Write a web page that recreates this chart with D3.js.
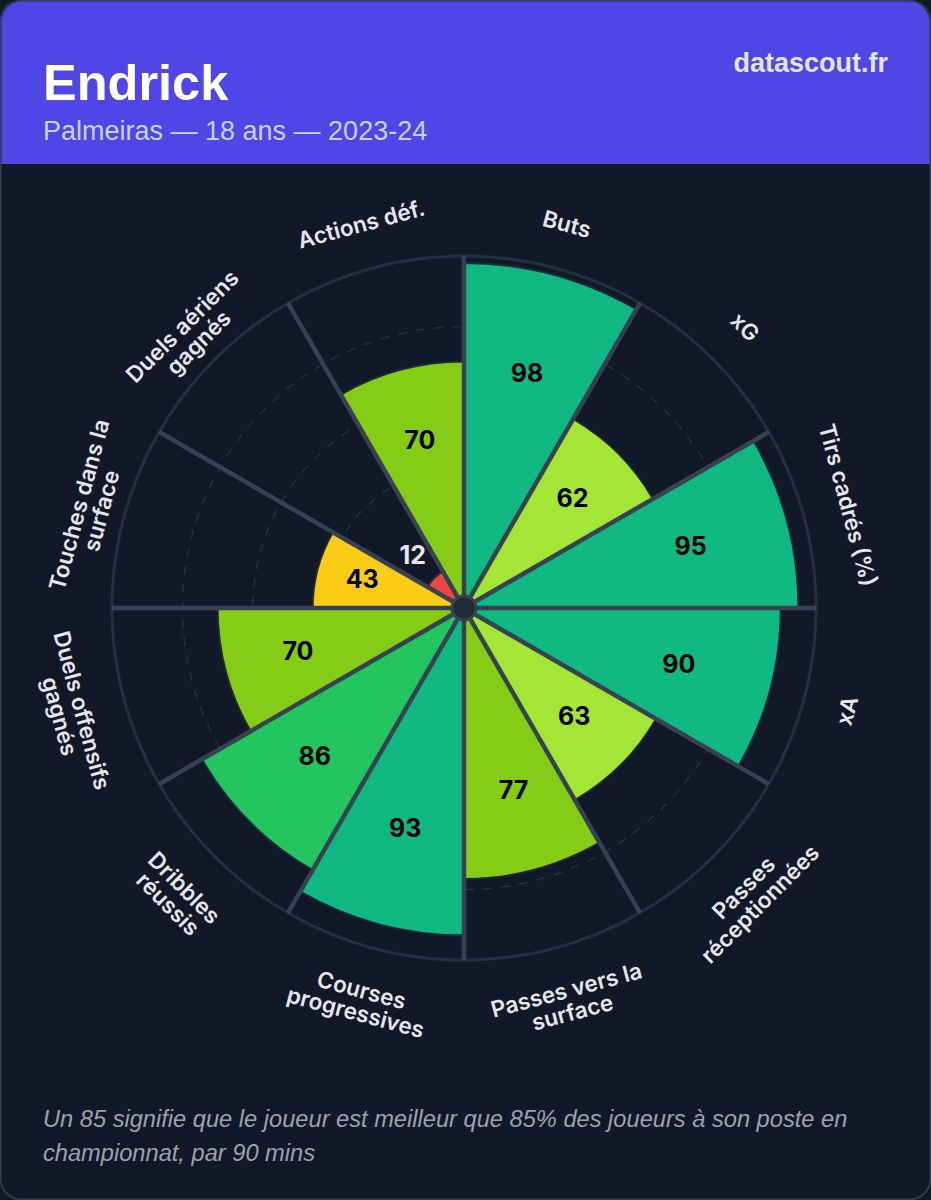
<!DOCTYPE html>
<html>
<head>
<meta charset="utf-8">
<script src="https://cdn.jsdelivr.net/npm/d3@7"></script>
<style>
html, body { margin: 0; padding: 0; background: #111827; }
svg { display: block; }
</style>
</head>
<body>
<svg width="931" height="1200"></svg>
<script>
const categories = ["Buts", "xG", "Tirs cadrés (%)", "xA", "Passes réceptionnées", "Passes vers la surface",
    "Courses progressives", "Dribbles réussis", "Duels offensifs gagnés", "Touches dans la surface",
    "Duels aériens gagnés", "Actions déf."];
const values = [98, 62, 95, 90, 63, 77, 93, 86, 70, 43, 12, 70];
const labelLines = [["Buts"], ["xG"], ["Tirs cadrés (%)"], ["xA"], ["Passes", "réceptionnées"], ["Passes vers la", "surface"],
    ["Courses", "progressives"], ["Dribbles", "réussis"], ["Duels offensifs", "gagnés"], ["Touches dans la", "surface"],
    ["Duels aériens", "gagnés"], ["Actions déf."]];
const gridTicks = [20, 40, 60, 80];
const colorStops = [25, 50, 65, 80, 90];
const colorRange = ["#ef4444", "#facc15", "#a3e635", "#84cc16", "#22c55e", "#10b981"];

const svg = d3.select("svg");
const cx = 464, cy = 608, outer = 352;

const r = d3.scaleLinear().domain([0, 100]).range([0, outer]);
const angle = d3.scaleBand().domain(categories).range([0, 2 * Math.PI]);
const color = d3.scaleThreshold().domain(colorStops).range(colorRange);
const deg = a => a * 180 / Math.PI;

// card
svg.append("rect").attr("x", 0.75).attr("y", 0.75).attr("width", 929.5).attr("height", 1198.5).attr("rx", 20)
    .attr("fill", "#111827").attr("stroke", "#374151").attr("stroke-width", 1.5);

// header
svg.append("path")
    .attr("d", "M1.5,164V21A20,20 0 0 1 21.5,1.5H909.5A20,20 0 0 1 929.5,21V164Z")
    .attr("fill", "#4f46e5");
svg.append("text").attr("x", 43).attr("y", 100).text("Endrick")
    .attr("font-family", "Liberation Sans").attr("font-weight", 700).attr("font-size", 50.5).attr("fill", "#fff");
svg.append("text").attr("x", 43).attr("y", 140).text("Palmeiras — 18 ans — 2023-24")
    .attr("font-family", "Liberation Sans").attr("font-size", 27).attr("fill", "#c7d2fe");
svg.append("text").attr("x", 888).attr("y", 72).attr("text-anchor", "end").text("datascout.fr")
    .attr("font-family", "Liberation Sans").attr("font-weight", 700).attr("font-size", 27).attr("fill", "#e0e7ff");

const chart = svg.append("g").attr("transform", `translate(${cx},${cy})`);

// grid
chart.selectAll("circle.grid").data(gridTicks).enter().append("circle")
    .attr("class", "grid")
    .attr("r", d => r(d))
    .attr("fill", "none").attr("stroke", "#262f3e").attr("stroke-width", 1.5).attr("stroke-dasharray", "9 9");
chart.append("circle").attr("r", r(100)).attr("fill", "none").attr("stroke", "#252f3f").attr("stroke-width", 3);

// sectors
const arc = d3.arc().innerRadius(0)
    .startAngle((d, i) => angle(categories[i]))
    .endAngle((d, i) => angle(categories[i]) + angle.bandwidth())
    .outerRadius(d => r(d));
chart.selectAll("path.sector").data(values).enter().append("path")
    .attr("class", "sector")
    .attr("d", arc)
    .attr("fill", d => color(d))
    .attr("stroke", "#1f2937").attr("stroke-width", 2);

// separators
chart.selectAll("line.sep").data(categories).enter().append("line")
    .attr("class", "sep")
    .attr("x1", 0).attr("y1", 0)
    .attr("x2", d => r(100) * Math.sin(angle(d)))
    .attr("y2", d => -r(100) * Math.cos(angle(d)))
    .attr("stroke", "#374151").attr("stroke-width", 4.5);

// hub
chart.append("circle").attr("r", 12).attr("fill", "#1f2937").attr("stroke", "#374151").attr("stroke-width", 3);

// values
chart.selectAll("text.value").data(values).enter().append("text")
    .attr("class", "value")
    .attr("transform", (d, i) => {
        const a = angle(categories[i]) + angle.bandwidth() / 2;
        const rad = d < 25 ? r(d) + 31 : r(d) * 0.7;
        return `translate(${rad * Math.sin(a) + 0.5},${-rad * Math.cos(a) - 1.5})`;
    })
    .attr("text-anchor", "middle").attr("dy", "0.36em")
    .attr("font-family", "Inter").attr("font-weight", 700).attr("font-size", 25)
    .attr("fill", d => d < 25 ? "#e5e7eb" : "#000")
    .text(d => d);

// labels around the outside
const label = chart.selectAll("text.cat").data(categories).enter().append("text")
    .attr("class", "cat")
    .attr("transform", d => {
        const a = angle(d) + angle.bandwidth() / 2;
        const dg = deg(a);
        const rot = dg > 90 && dg < 270 ? dg - 180 : dg;
        return `translate(${397 * Math.sin(a)},${-397 * Math.cos(a)}) rotate(${rot})`;
    })
    .attr("text-anchor", "middle")
    .attr("font-family", "Inter").attr("font-weight", 600).attr("font-size", 22.5)
    .attr("fill", "#e5e7eb");
label.each(function(d, i) {
    const lines = labelLines[i];
    lines.forEach((t, j) => {
        d3.select(this).append("tspan").attr("x", 0)
            .attr("y", j * 23 + (lines.length > 1 ? 6.5 : 7.5))
            .text(t);
    });
});

// footer
const footer = svg.append("text").attr("font-family", "Liberation Sans").attr("font-style", "italic")
    .attr("font-size", 23.65).attr("fill", "#9ca3af");
footer.append("tspan").attr("x", 43).attr("y", 1127).text("Un 85 signifie que le joueur est meilleur que 85% des joueurs à son poste en");
footer.append("tspan").attr("x", 43).attr("y", 1161).text("championnat, par 90 mins");
</script>
</body>
</html>
